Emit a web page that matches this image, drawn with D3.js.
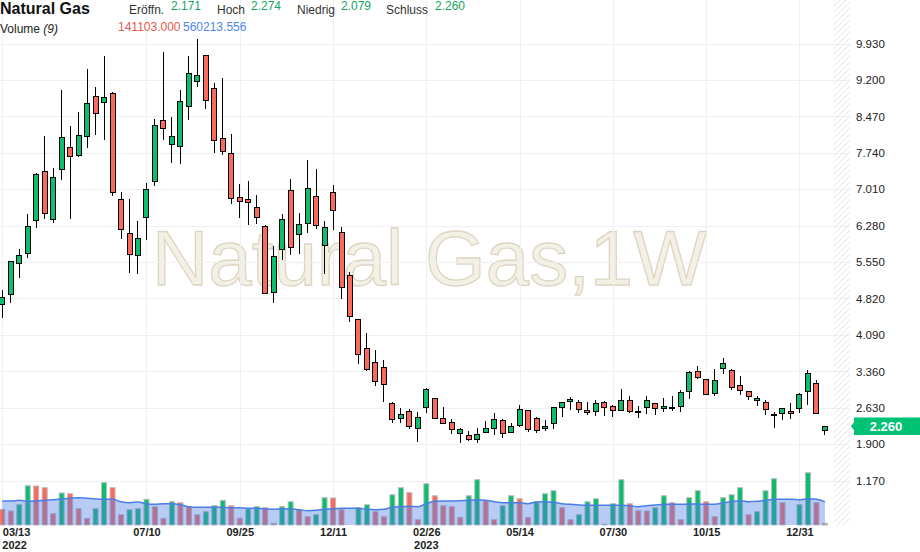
<!DOCTYPE html>
<html lang="de">
<head>
<meta charset="UTF-8">
<title>Natural Gas, 1W</title>
<script src="https://d3js.org/d3.v7.min.js"></script>
<style>
  body { margin: 0; background: #fff; }
  svg { display: block; font-family: "Liberation Sans", Arial, sans-serif; }
</style>
</head>
<body>
<script>
// weekly candles, first week starts 2022-03-13
const firstWeek = "2022-03-13";

const opens = [4.69,4.89,5.53,5.73,6.38,7.36,6.40,7.40,7.84,7.68,8.06,8.87,8.75,8.93,6.80,6.12,5.69,6.44,7.16,8.39,
  7.90,7.86,8.67,9.17,9.68,9.03,8.02,7.72,6.84,6.80,6.64,6.26,4.95,5.81,6.98,6.10,6.32,6.86,5.89,6.94,
  6.14,5.28,4.39,3.81,3.54,3.44,2.71,2.41,2.55,2.21,2.63,2.81,2.41,2.33,2.11,2.07,1.99,2.13,2.21,2.38,
  2.14,2.27,2.57,2.41,2.21,2.31,2.63,2.75,2.73,2.57,2.55,2.73,2.65,2.57,2.77,2.55,2.63,2.71,2.61,2.62,
  2.65,2.95,3.35,3.19,2.91,3.41,3.37,3.07,2.95,2.77,2.73,2.49,2.51,2.55,2.61,2.95,3.11,2.171];
const highs = [4.99,5.57,5.81,6.52,7.34,8.07,7.43,8.99,8.28,8.55,9.41,9.05,9.68,8.95,6.96,6.82,6.38,7.14,8.41,9.76,
  8.46,8.99,9.68,10.03,9.70,9.13,9.23,8.12,7.12,7.18,6.90,6.30,5.87,6.52,7.22,6.54,7.60,7.42,6.38,7.10,
  6.25,5.36,4.40,4.12,3.79,3.58,2.75,2.63,2.61,2.55,3.03,2.82,2.65,2.41,2.23,2.17,2.23,2.37,2.53,2.40,
  2.32,2.69,2.58,2.45,2.39,2.64,2.75,2.85,2.79,2.75,2.79,2.77,2.69,3.01,2.87,2.67,2.87,2.72,2.83,2.87,
  2.99,3.37,3.47,3.20,3.41,3.63,3.41,3.27,2.96,2.87,2.79,2.55,2.62,2.73,2.93,3.39,3.19,2.274];
const lows = [4.43,4.72,5.23,5.63,6.24,6.41,6.33,7.19,6.42,7.65,7.84,8.10,8.00,6.88,6.01,5.33,5.31,6.00,7.07,8.00,
  7.54,7.51,8.40,9.05,8.61,7.74,7.70,6.72,6.44,6.30,6.32,4.90,4.73,5.59,5.69,5.71,6.14,6.22,5.31,6.20,
  4.81,4.35,3.50,3.37,3.07,2.75,2.33,2.33,2.21,1.94,2.53,2.40,2.30,2.11,1.93,1.97,1.93,2.12,2.09,2.02,
  2.13,2.25,2.15,2.13,2.17,2.21,2.45,2.59,2.53,2.49,2.47,2.47,2.45,2.56,2.53,2.43,2.51,2.49,2.55,2.57,
  2.55,2.81,3.21,2.88,2.87,3.31,2.99,2.89,2.79,2.67,2.49,2.23,2.39,2.41,2.53,2.69,2.50,2.079];
const closes = [4.84,5.56,5.69,6.26,7.30,6.52,7.25,8.04,7.66,8.08,8.73,8.53,8.85,6.94,6.20,5.71,6.02,7.00,8.28,8.22,
  8.06,8.77,9.33,9.29,8.79,7.99,7.76,6.82,6.76,6.74,6.44,4.93,5.67,6.40,5.85,6.30,7.02,6.28,6.24,6.58,
  5.05,4.45,3.70,3.39,3.16,3.10,2.39,2.49,2.25,2.43,3.00,2.41,2.31,2.19,2.19,1.99,2.09,2.21,2.39,2.12,
  2.26,2.59,2.19,2.17,2.25,2.63,2.73,2.79,2.59,2.53,2.71,2.63,2.57,2.77,2.55,2.53,2.77,2.61,2.65,2.63,
  2.93,3.33,3.23,2.89,3.17,3.51,3.03,2.97,2.85,2.81,2.59,2.48,2.61,2.51,2.89,3.31,2.51,2.260];

// volume in thousand contracts
const volumes = [413,380,502,870,865,832,327,729,715,424,238,424,929,832,308,405,424,607,463,238,
  560,541,463,308,366,482,587,482,238,424,463,444,141,463,560,405,269,308,638,632,
  405,95,444,502,366,269,696,832,735,211,909,676,482,463,257,676,987,579,211,482,
  676,618,257,560,715,773,444,211,308,560,618,122,521,987,521,385,380,444,676,541,
  211,638,773,560,269,638,696,832,308,366,773,1006,541,90,502,1123,541,141.103];
// 9-week moving average of volume, thousand contracts
const volumeMA = [574,574,587,567,574,587,599,612,626,638,626,612,607,607,560,541,554,521,509,521,
  521,502,463,451,451,451,451,444,444,431,431,424,412,425,418,405,386,392,412,425,
  431,431,431,412,405,412,451,464,470,464,522,567,574,574,580,587,599,587,561,541,
  541,541,522,554,561,548,522,509,496,490,490,490,490,490,483,464,483,496,509,509,
  509,515,515,509,509,535,561,580,561,567,587,606,606,606,599,619,606,560.213556];

const priceTicks = [1.17,1.9,2.63,3.36,4.09,4.82,5.55,6.28,7.01,7.74,8.47,9.2,9.93];
const dateTicks = ["2022-03-13","2022-07-10","2022-09-25","2022-12-11","2023-02-26",
  "2023-05-14","2023-07-30","2023-10-15","2023-12-31"];
const yearLabels = {"2022-03-13": "2022", "2023-02-26": "2023"};

const width = 920, height = 552;
const plotRight = 850, volBase = 525;
const upColor = "#0bbd6c", downColor = "#fa6a5a";

const parse = d3.timeParse("%Y-%m-%d");
const start = parse(firstWeek);
const n = closes.length;
const data = closes.map((c, i) => ({
  date: d3.timeWeek.offset(start, i),
  open: opens[i], high: highs[i], low: lows[i], close: c,
  vol: volumes[i], ma: volumeMA[i],
  volUp: i > 0 && volumes[i] > volumes[i - 1]
}));
const last = data[n - 1];

const x = d3.scaleTime()
  .domain([data[0].date, last.date])
  .range([2.3, 824.9]);
const y = d3.scaleLinear().domain([1.9, 9.93]).range([444.2, 43.5]);
const vy = d3.scaleLinear().domain([108, 1150]).range([volBase, 471.3]).clamp(true);

const svg = d3.select('body').append('svg')
  .attr('width', width)
  .attr('height', height);

// hatch for the empty space right of the last bar
const pat = svg.append('defs').append('pattern')
  .attr('id', 'hatch')
  .attr('patternUnits', 'userSpaceOnUse')
  .attr('width', 6).attr('height', 6);
pat.append('path')
  .attr('d', 'M-1,1 l2,-2 M0,6 l6,-6 M5,7 l2,-2')
  .attr('stroke', '#e4e4e4').attr('stroke-width', 1);

// watermark
svg.append('text')
  .attr('x', 152).attr('y', 284.5)
  .attr('font-size', 78)
  .attr('fill', '#f3f0e6')
  .attr('stroke', '#ddd5c0')
  .attr('stroke-width', 1.3)
  .text('Natural Gas,1W');

// grid
svg.append('g').selectAll('line')
  .data(priceTicks)
  .join('line')
  .attr('x1', 0).attr('x2', plotRight)
  .attr('y1', d => Math.round(y(d)) + 0.5)
  .attr('y2', d => Math.round(y(d)) + 0.5)
  .attr('stroke', '#efefef');

svg.append('g').selectAll('line')
  .data(dateTicks)
  .join('line')
  .attr('x1', d => Math.round(x(parse(d))) + 0.5)
  .attr('x2', d => Math.round(x(parse(d))) + 0.5)
  .attr('y1', 0).attr('y2', volBase)
  .attr('stroke', '#efefef');

const hatchX = x(d3.timeWeek.offset(last.date, 1));
svg.append('rect')
  .attr('x', hatchX).attr('y', 0)
  .attr('width', plotRight - hatchX)
  .attr('height', volBase)
  .attr('fill', 'url(#hatch)');

// volume bars
svg.append('g').selectAll('rect')
  .data(data.filter(d => vy(d.vol) < volBase))
  .join('rect')
  .attr('x', d => x(d.date) - 2.5)
  .attr('y', d => vy(d.vol))
  .attr('width', 5)
  .attr('height', d => volBase - vy(d.vol))
  .attr('fill', d => d.volUp ? upColor : downColor)
  .attr('stroke', '#bdbdbd')
  .attr('stroke-width', 1);

// volume moving average, drawn translucent over the bars
svg.append('path')
  .datum(data)
  .attr('d', d3.area()
    .x(d => x(d.date))
    .y0(volBase)
    .y1(d => vy(d.ma))
    .curve(d3.curveMonotoneX))
  .attr('fill', '#4a7ee6')
  .attr('fill-opacity', 0.4);

svg.append('path')
  .datum(data)
  .attr('d', d3.line()
    .x(d => x(d.date))
    .y(d => vy(d.ma))
    .curve(d3.curveMonotoneX))
  .attr('fill', 'none')
  .attr('stroke', '#4a7ee6')
  .attr('stroke-width', 1.5);

// candles
const candles = svg.append('g').attr('shape-rendering', 'crispEdges');
candles.selectAll('line')
  .data(data)
  .join('line')
  .attr('x1', d => x(d.date)).attr('x2', d => x(d.date))
  .attr('y1', d => y(d.high)).attr('y2', d => y(d.low))
  .attr('stroke', '#000');

candles.selectAll('rect')
  .data(data)
  .join('rect')
  .attr('x', d => x(d.date) - 2.5)
  .attr('y', d => y(Math.max(d.open, d.close)))
  .attr('width', 5)
  .attr('height', d => Math.max(1, Math.abs(y(d.open) - y(d.close))))
  .attr('fill', d => d.close > d.open ? upColor : downColor)
  .attr('stroke', '#000');

// price axis
const yAxis = svg.append('g')
  .attr('transform', `translate(${plotRight},0)`)
  .call(d3.axisRight(y)
    .tickValues(priceTicks)
    .tickFormat(d3.format('.3f'))
    .tickSize(0)
    .tickPadding(6));
yAxis.select('.domain').remove();
yAxis.selectAll('text')
  .attr('font-family', '"Liberation Sans", Arial, sans-serif')
  .attr('font-size', 11.5)
  .attr('fill', '#222');

// date axis
const xAxis = svg.append('g')
  .attr('transform', `translate(0,${volBase})`)
  .call(d3.axisBottom(x)
    .tickValues(dateTicks.map(parse))
    .tickFormat(d3.timeFormat('%m/%d'))
    .tickSize(0)
    .tickPadding(3));
xAxis.select('.domain').remove();
xAxis.selectAll('text')
  .attr('font-family', '"Liberation Sans", Arial, sans-serif')
  .attr('font-size', 11)
  .attr('font-weight', 'bold')
  .attr('fill', '#222')
  .attr('text-anchor', (d, i) => i === 0 ? 'start' : 'middle');

svg.append('g').selectAll('text')
  .data(dateTicks.filter(d => yearLabels[d]))
  .join('text')
  .attr('x', d => x(parse(d)))
  .attr('y', 548.5)
  .attr('text-anchor', (d, i) => i === 0 ? 'start' : 'middle')
  .attr('font-size', 11)
  .attr('font-weight', 'bold')
  .attr('fill', '#222')
  .text(d => yearLabels[d]);

// last price marker
const py = y(last.close);
svg.append('path')
  .attr('d', `M851,${py} L854,${py - 4} L854,${py - 8.7} L920,${py - 8.7} L920,${py + 8.7} L854,${py + 8.7} L854,${py + 4} Z`)
  .attr('fill', last.close >= last.open ? '#00c274' : downColor);
svg.append('text')
  .attr('x', 886).attr('y', py + 4.6)
  .attr('text-anchor', 'middle')
  .attr('font-size', 13)
  .attr('font-weight', 'bold')
  .attr('fill', '#fff')
  .text(d3.format('.3f')(last.close));

// header
const fmt = d3.format('.3f');
const valColor = last.close >= last.open ? '#16a35f' : '#e0453a';
svg.append('text')
  .attr('x', 0).attr('y', 14)
  .attr('font-size', 16).attr('font-weight', 'bold').attr('fill', '#111')
  .text('Natural Gas');

const ohlc = [
  ['Eröffn.', last.open, 129, 171],
  ['Hoch', last.high, 217, 251],
  ['Niedrig', last.low, 297, 341],
  ['Schluss', last.close, 386, 435]
];
const head = svg.append('g');
ohlc.forEach(([label, v, lx, vx]) => {
  head.append('text').attr('x', lx).attr('y', 13.5)
    .attr('font-size', 12).attr('fill', '#333').text(label);
  head.append('text').attr('x', vx).attr('y', 10)
    .attr('font-size', 12).attr('fill', valColor).text(fmt(v));
});

const volHead = svg.append('text')
  .attr('x', 0).attr('y', 33)
  .attr('font-size', 12).attr('fill', '#222');
volHead.append('tspan').text('Volume ');
volHead.append('tspan').attr('font-style', 'italic').text('(9)');

svg.append('text')
  .attr('x', 118).attr('y', 31)
  .attr('font-size', 12).attr('fill', '#e05a4f')
  .text(fmt(last.vol * 1000));
svg.append('text')
  .attr('x', 183).attr('y', 31)
  .attr('font-size', 12).attr('fill', '#4f86e8')
  .text(fmt(last.ma * 1000));
</script>
</body>
</html>
